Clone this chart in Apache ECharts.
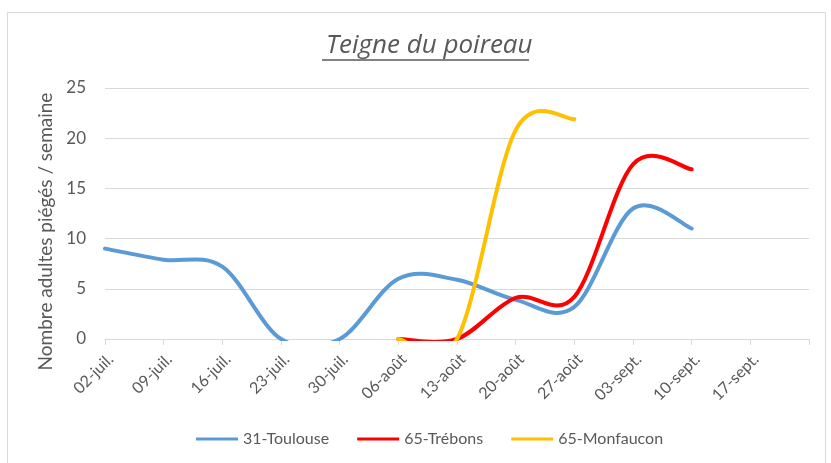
<!DOCTYPE html>
<html>
<head>
<meta charset="utf-8">
<title>Teigne du poireau</title>
<script src="https://cdn.jsdelivr.net/npm/echarts@6/dist/echarts.min.js"></script>
<style>
  html, body { margin: 0; padding: 0; background: #fff; }
  #chart { width: 831px; height: 463px; }
</style>
</head>
<body>
<div id="chart"></div>
<script>
// semaines (l'axe va jusqu'au 24-sept., dernière étiquette masquée)
var dates = ['02-juil.', '09-juil.', '16-juil.', '23-juil.', '30-juil.', '06-août', '13-août',
  '20-août', '27-août', '03-sept.', '10-sept.', '17-sept.', '24-sept.'];

// adultes piégés / semaine
var toulouse = [9.0, 7.9, 7.2, 0, 0, 6.0, 5.9, 3.9, 3.2, 13.0, 11.0, null, null];
var trebons = [null, null, null, null, null, 0, 0, 4.1, 4.2, 17.4, 16.9, null, null];
var monfaucon = [null, null, null, null, null, 0, 0, 20.8, 21.9, null, null, null, null];

var yTicks = [0, 5, 10, 15, 20, 25];

var txt = '#595959';
var font = 'Lato, "Open Sans", sans-serif';

// [index semaine, valeur] sans les trous
function toPairs(arr) {
  var out = [];
  arr.forEach(function (v, i) { if (v !== null) out.push([i, v]); });
  return out;
}

// courbe lissée façon Excel (Catmull-Rom -> Bézier), coupée au bord du graphe
function smoothLine(color) {
  return function (params, api) {
    if (params.dataIndex !== 0) return null;
    var src = chart.getOption().series[params.seriesIndex].data;
    var p = src.map(function (d) { return api.coord(d); });
    var d = 'M' + p[0][0] + ',' + p[0][1];
    for (var i = 0; i < p.length - 1; i++) {
      var p0 = p[i - 1] || p[i], p1 = p[i], p2 = p[i + 1], p3 = p[i + 2] || p[i + 1];
      var c1x = p1[0] + (p2[0] - p0[0]) / 6, c1y = p1[1] + (p2[1] - p0[1]) / 6;
      var c2x = p2[0] - (p3[0] - p1[0]) / 6, c2y = p2[1] - (p3[1] - p1[1]) / 6;
      d += ' C' + c1x + ',' + c1y + ' ' + c2x + ',' + c2y + ' ' + p2[0] + ',' + p2[1];
    }
    var cs = params.coordSys;
    return {
      type: 'group',
      clipPath: { type: 'rect', shape: { x: cs.x - 4, y: cs.y - 4, width: cs.width + 8, height: cs.height + 6 } },
      children: [{
        type: 'path',
        shape: { pathData: d },
        style: { fill: null, stroke: color, lineWidth: 4, lineCap: 'round', lineJoin: 'round' }
      }]
    };
  };
}

var chart = echarts.init(document.getElementById('chart'), null, { renderer: 'canvas' });

var option = {
  animation: false,
  textStyle: { fontFamily: font, color: txt },
  title: {
    text: 'Teigne du poireau',
    left: 321,
    top: 28,
    textStyle: { fontSize: 26, fontStyle: 'italic', fontWeight: 'normal', color: txt, fontFamily: '"Open Sans", Lato, sans-serif' }
  },
  graphic: [
    // cadre du graphique
    { type: 'rect', shape: { x: 7.5, y: 12.5, width: 818, height: 460 },
      style: { fill: null, stroke: '#d9d9d9', lineWidth: 1 }, silent: true },
    // soulignement du titre
    { type: 'line', shape: { x1: 322, y1: 60, x2: 529, y2: 60 },
      style: { stroke: txt, lineWidth: 1.3 }, silent: true }
  ],
  legend: {
    bottom: 11,
    left: 191,
    itemWidth: 42,
    itemHeight: 3,
    itemGap: 28,
    icon: 'rect',
    textStyle: { fontSize: 16, color: txt, fontFamily: font },
    data: ['31-Toulouse', '65-Trébons', '65-Monfaucon']
  },
  grid: { left: 105, right: 22, top: 88, bottom: 124, containLabel: false },
  xAxis: {
    type: 'category',
    data: dates,
    boundaryGap: false,
    axisLine: { lineStyle: { color: '#d9d9d9', width: 1 } },
    axisTick: { show: true, length: 6, lineStyle: { color: '#d9d9d9' } },
    axisLabel: {
      rotate: 45,
      fontSize: 16,
      color: txt,
      margin: 12,
      verticalAlign: 'top',
      interval: 0,
      formatter: function (v, i) { return i === dates.length - 1 ? '' : v; }
    },
    splitLine: { show: false }
  },
  yAxis: {
    type: 'value',
    min: yTicks[0],
    max: yTicks[yTicks.length - 1],
    interval: 5,
    name: 'Nombre adultes piégés / semaine',
    nameLocation: 'middle',
    nameGap: 45,
    nameTextStyle: { fontSize: 19, color: txt, fontFamily: font, padding: [0, 36, 0, 0] },
    axisLine: { show: false },
    axisTick: { show: false },
    axisLabel: { fontSize: 17, color: txt, margin: 19 },
    splitLine: { lineStyle: { color: '#d9d9d9', width: 1 } }
  },
  series: [
    { name: '31-Toulouse', type: 'custom', coordinateSystem: 'cartesian2d', data: toPairs(toulouse),
      encode: { x: 0, y: 1 }, itemStyle: { color: '#5b9bd5' }, renderItem: smoothLine('#5b9bd5') },
    { name: '65-Trébons', type: 'custom', coordinateSystem: 'cartesian2d', data: toPairs(trebons),
      encode: { x: 0, y: 1 }, itemStyle: { color: '#ff0000' }, renderItem: smoothLine('#ff0000') },
    { name: '65-Monfaucon', type: 'custom', coordinateSystem: 'cartesian2d', data: toPairs(monfaucon),
      encode: { x: 0, y: 1 }, itemStyle: { color: '#ffc000' }, renderItem: smoothLine('#ffc000') }
  ]
};

chart.setOption(option);
</script>
</body>
</html>
